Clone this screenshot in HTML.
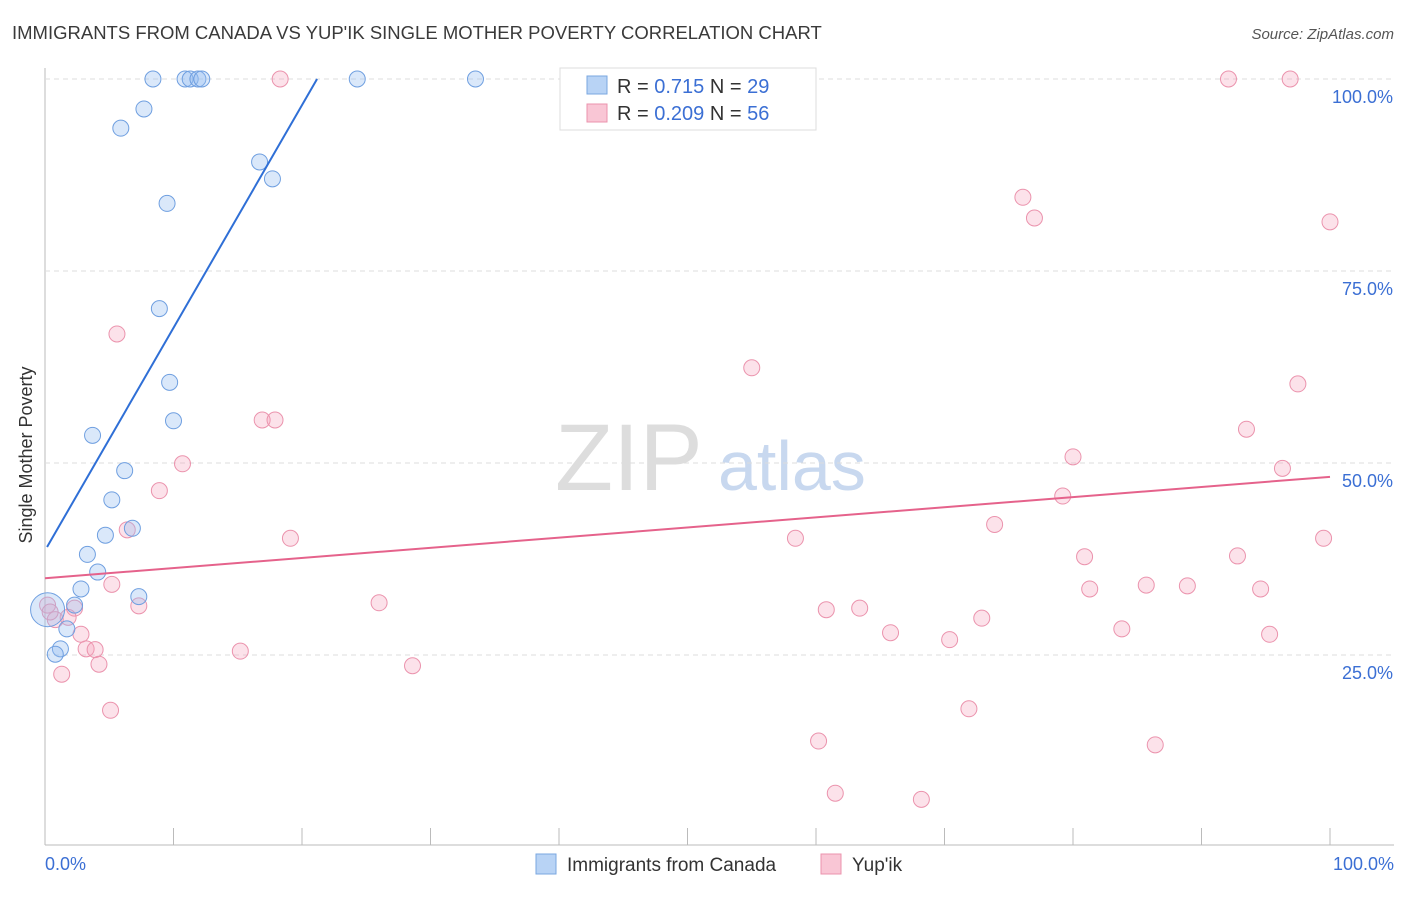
<!DOCTYPE html>
<html><head><meta charset="utf-8"><style>
body{margin:0;background:#fff;font-family:"Liberation Sans",sans-serif;}
svg text{font-family:"Liberation Sans",sans-serif;}
</style></head><body>
<svg id="chart" width="1406" height="892" xmlns="http://www.w3.org/2000/svg">
<text x="12" y="39" font-size="18.5" fill="#3a3a3a">IMMIGRANTS FROM CANADA VS YUP'IK SINGLE MOTHER POVERTY CORRELATION CHART</text>
<text x="1394" y="39" font-size="15" fill="#555" text-anchor="end" font-style="italic">Source: ZipAtlas.com</text>
<text x="32" y="455" font-size="18" fill="#333" text-anchor="middle" transform="rotate(-90 32 455)">Single Mother Poverty</text>
<text x="555" y="490" font-size="95" fill="#ddd" font-family="Liberation Serif">ZIP</text>
<text x="718" y="490" font-size="70" fill="#c8d8ef">atlas</text>
<g id="grid"></g><g id="pts"></g><g id="lines"></g>
<g>
<rect x="560" y="68" width="256" height="62" fill="#fff" stroke="#ddd"/>
<rect x="587" y="76" width="20" height="18" fill="#b8d3f5" stroke="#7aa7e0"/>
<text x="617" y="93" font-size="20" fill="#333">R = <tspan fill="#3b6fd4"> 0.715</tspan>   N = <tspan fill="#3b6fd4">29</tspan></text>
<rect x="587" y="104" width="20" height="18" fill="#f9c6d5" stroke="#eb93ad"/>
<text x="617" y="120" font-size="20" fill="#333">R = <tspan fill="#3b6fd4">0.209</tspan>   N = <tspan fill="#3b6fd4">56</tspan></text>
</g>
<g>
<rect x="536" y="854" width="20" height="20" fill="#b8d3f5" stroke="#7aa7e0"/>
<text x="567" y="871" font-size="19" fill="#333">Immigrants from Canada</text>
<rect x="821" y="854" width="20" height="20" fill="#f9c6d5" stroke="#eb93ad"/>
<text x="852" y="871" font-size="19" fill="#333">Yup'ik</text>
</g>
</svg>
<script>
const yTicks=[25,50,75,100];
const xTickLabels=["0.0%","100.0%"];
const blueX=[8.4,10.9,11.3,11.9,12.2,24.3,33.5,7.7,5.9,16.7,17.7,9.5,8.9,9.7,10.0,3.7,6.2,5.2,4.7,6.8,3.3,4.1,2.8,7.3,2.3,1.7,1.2,0.8,0.2];
const blueY=[100,100,100,100,100,100,100,96.1,93.6,89.2,87.0,83.8,70.1,60.5,55.5,53.6,49.0,45.2,40.6,41.5,38.1,35.8,33.6,32.6,31.5,28.4,25.8,25.1,30.9];
const pinkX=[18.3,92.1,96.9,76.1,77.0,100,5.6,55.0,97.5,16.9,17.9,93.5,10.7,80.0,96.3,8.9,79.2,6.4,73.9,19.1,58.4,99.5,80.9,92.8,5.2,85.7,81.3,88.9,94.6,26.0,7.3,2.3,63.4,60.8,0.8,1.8,72.9,2.8,65.8,83.8,70.4,95.3,3.2,3.9,15.2,4.2,28.6,1.3,71.9,5.1,60.2,86.4,61.5,68.2,0.2,0.4];
const pinkY=[100,100,100,84.6,81.9,81.4,66.8,62.4,60.3,55.6,55.6,54.4,49.9,50.8,49.3,46.4,45.7,41.3,42.0,40.2,40.2,40.2,37.8,37.9,34.2,34.1,33.6,34.0,33.6,31.8,31.4,31.1,31.1,30.9,29.6,29.9,29.8,27.7,27.9,28.4,27.0,27.7,25.8,25.7,25.5,23.8,23.6,22.5,18.0,17.8,13.8,13.3,7.0,6.2,31.5,30.6];
const blueLine=[38.6,2.9];  // intercept, slope
const pinkLine=[35.0,0.132];
const X=v=>45+v*12.85, Y=v=>847-v*7.68;
const NS="http://www.w3.org/2000/svg";
function mk(t,a,p){const e=document.createElementNS(NS,t);for(const k in a)e.setAttribute(k,a[k]);p.appendChild(e);return e;}
const grid=document.getElementById('grid');
const ax=mk('line',{x1:45,y1:68,x2:45,y2:845,stroke:'#bbb'},grid);


const bx=mk('line',{x1:45,y1:845,x2:1394,y2:845,stroke:'#bbb'},grid);


for(const t of yTicks){
 const l=mk('line',{x1:45,y1:Y(t),x2:1394,y2:Y(t),stroke:'#ddd','stroke-dasharray':'5,4'},grid);
 
 
 const tx=mk('text',{x:1393,y:Y(t)+24,'font-size':18,fill:'#3b6fd4','text-anchor':'end'},grid);
 tx.textContent=t.toFixed(1)+'%';
 
 
}
for(let i=0;i<=10;i++){
 const l=mk('line',{x1:X(i*10),y1:828,x2:X(i*10),y2:845,stroke:'#bbb'},grid);
 
 
}
const xl=[[45,'start',xTickLabels[0]],[1394,'end',xTickLabels[1]]];
for(const [x,a,s] of xl){const t=mk('text',{x:x,y:870,'font-size':18,fill:'#3b6fd4','text-anchor':a},grid);t.textContent=s;
 
 }
const pts=document.getElementById('pts');
pinkX.forEach((x,i)=>{const c=mk('circle',{cx:X(x),cy:Y(pinkY[i]),r:8,fill:'rgba(245,160,185,0.3)',stroke:'#eb93ad','stroke-width':1},pts);
 
 });
blueX.forEach((x,i)=>{const c=mk('circle',{cx:X(x),cy:Y(blueY[i]),r:i==blueX.length-1?17:8,fill:'rgba(150,190,240,0.35)',stroke:'#6f9fe0','stroke-width':1},pts);
 
 });
const lines=document.getElementById('lines');
const bxEnd=(100-blueLine[0])/blueLine[1];
const bl=mk('line',{x1:X(0.16),y1:Y(blueLine[0]+blueLine[1]*0.16),x2:X(bxEnd),y2:Y(100),stroke:'#2f6fd6','stroke-width':2},lines);


const pl=mk('line',{x1:X(0),y1:Y(pinkLine[0]),x2:X(100),y2:Y(pinkLine[0]+pinkLine[1]*100),stroke:'#e5628b','stroke-width':2},lines);


</script>
</body></html>
